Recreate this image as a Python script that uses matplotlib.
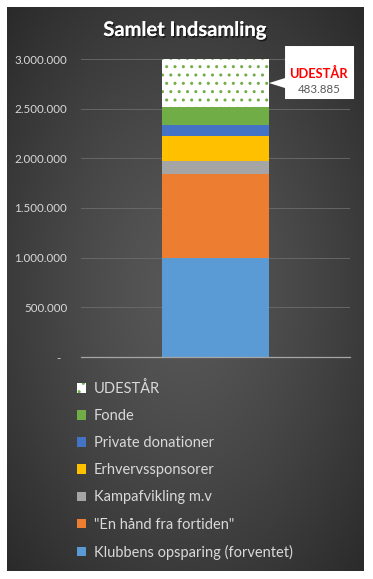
import numpy as np
import matplotlib
matplotlib.use("Agg")
import matplotlib.pyplot as plt
from matplotlib.patches import Polygon
from matplotlib.transforms import IdentityTransform
import matplotlib.patheffects as pe

# ---------------- data ----------------
categories = ["Samlet"]
series_names = ["Klubbens opsparing (forventet)", '"En hånd fra fortiden"',
                "Kampafvikling m.v", "Erhvervssponsorer",
                "Private donationer", "Fonde", "UDESTÅR"]
series_values = [1000000, 840000, 135000, 250000, 110000, 181115, 483885]
series_colors = ["#5b9bd5", "#ed7d31", "#a5a5a5", "#ffc000",
                 "#4472c4", "#70ad47", "#ffffff"]
ytick_values = [0, 500000, 1000000, 1500000, 2000000, 2500000, 3000000]
ytick_labels = ["-  ", "500.000", "1.000.000", "1.500.000", "2.000.000",
                "2.500.000", "3.000.000"]
title = "Samlet Indsamling"
callout_title = "UDESTÅR"
callout_value = "483.885"

W, H = 373, 579
plt.rcParams['font.family'] = ['Lato', 'DejaVu Sans']
plt.rcParams['hatch.linewidth'] = 1.0

fig = plt.figure(figsize=(W / 100, H / 100), dpi=100)
fig.patch.set_facecolor("white")

# background panel with radial gradient
bg = fig.add_axes([7 / W, 8 / H, 357 / W, 564 / H])
ny, nx = 300, 200
yy, xx = np.mgrid[0:ny, 0:nx]
dx = (xx - nx * 0.5) / (nx * 0.5)
dy = (yy - ny * 0.5) / (ny * 0.5)
r = np.clip(np.sqrt((dx ** 2 + dy ** 2) / 2.0), 0, 1)
c0 = np.array([0x58, 0x58, 0x58]) / 255
c1 = np.array([0x2a, 0x2a, 0x2a]) / 255
t = r ** 1.3
img = c0[None, None, :] * (1 - t[..., None]) + c1[None, None, :] * t[..., None]
bg.imshow(img, aspect="auto", extent=[0, 1, 0, 1], interpolation="bilinear")
bg.set_axis_off()

ax = fig.add_axes([81 / W, (H - 357) / H, 269 / W, 298 / H])
ax.set_facecolor("none")

x = np.arange(len(categories))
bottom = np.zeros(len(categories))
bars = []
for name, val, col in zip(series_names, series_values, series_colors):
    if name == "UDESTÅR":
        b = ax.bar(x, [val], 0.398, bottom=bottom, color=col,
                   edgecolor="#70ad47", linewidth=0, hatch="..", label=name,
                   zorder=3)
    else:
        b = ax.bar(x, [val], 0.398, bottom=bottom, color=col, linewidth=0,
                   label=name, zorder=3)
    bars.append(b)
    bottom = bottom + np.array([val])

ax.set_xlim(-0.5, 0.5)
ax.set_ylim(0, 3000000)
ax.set_yticks(ytick_values)
ax.set_yticklabels(ytick_labels)
ax.tick_params(axis="y", length=0, pad=10, labelsize=8.3, labelcolor="#d9d9d9")
ax.set_xticks([])
ax.grid(axis="y", color="#6c6c6c", linewidth=0.6, zorder=0)
for s in ["top", "right", "left"]:
    ax.spines[s].set_visible(False)
ax.spines["bottom"].set_color("#a6a6a6")
ax.spines["bottom"].set_linewidth(0.9)
ax.spines["bottom"].set_zorder(4)

# title
fig.text(185 / W, 1 - 30 / H, title, ha="center", va="center",
         fontsize=14.5, fontweight="bold", color="white",
         path_effects=[pe.withSimplePatchShadow(offset=(1, -1.2),
                                                shadow_rgbFace="black",
                                                alpha=0.6), pe.Normal()])

# callout for UDESTÅR
fig.canvas.draw()
mid = series_values[-1] / 2 + sum(series_values[:-1])
ax_x = 0.398 / 2
px, py = ax.transData.transform((ax_x, mid))
box_l, box_r = px + 16, px + 85
box_t, box_b = py + 37, py - 16
poly = Polygon([(px, py), (box_l, py + 5), (box_l, box_t), (box_r, box_t),
                (box_r, box_b), (box_l, box_b), (box_l, py - 5)],
               closed=True, facecolor="white", edgecolor="none",
               transform=IdentityTransform(), zorder=5)
fig.add_artist(poly)
fig.text((px + 49) / W, (py + 10) / H, callout_title, ha="center",
         va="center", fontsize=9.3, fontweight="bold", color="#ff0000",
         zorder=6)
fig.text((px + 50) / W, (py - 6) / H, callout_value, ha="center",
         va="center", fontsize=8.3, color="#595959", zorder=6)

# legend (reversed order)
handles = [b.patches[0] for b in bars][::-1]
labels = series_names[::-1]
leg = fig.legend(handles, labels, loc="upper left",
                 bbox_to_anchor=(77 / W, 1 - 381 / H), frameon=False,
                 fontsize=10.5, labelcolor="#d9d9d9", handlelength=0.62,
                 handleheight=0.62, handletextpad=0.55, labelspacing=0.9,
                 borderpad=0, borderaxespad=0)

fig.savefig("out.png", dpi=100, facecolor="white")
